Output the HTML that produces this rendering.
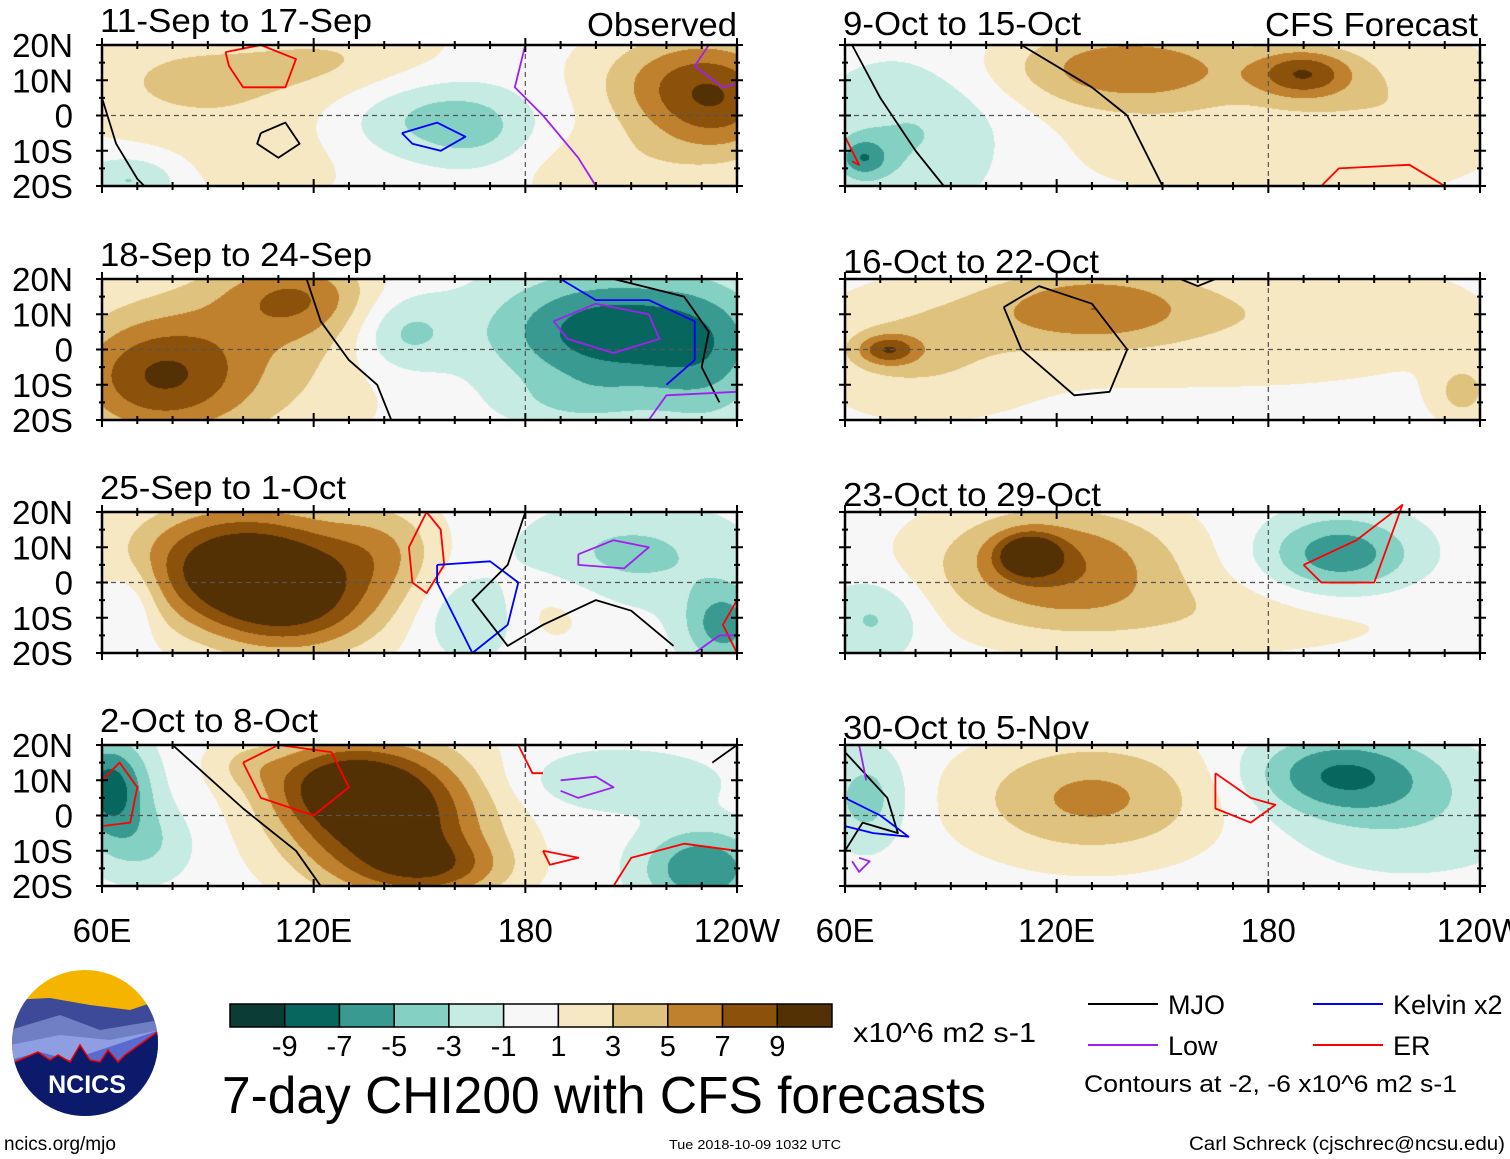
<!DOCTYPE html>
<html><head><meta charset="utf-8">
<style>
body{margin:0;background:#fff;width:1510px;height:1159px;position:relative;overflow:hidden;font-family:"Liberation Sans",sans-serif;}
canvas{position:absolute;}
svg{position:absolute;left:0;top:0;}
</style></head><body>
<div id="root"></div>
<svg id="ov" width="1510" height="1159"></svg>
<script>
// ---- data ----
const levelBounds=[-9,-7,-5,-3,-1,1,3,5,7,9];
const levelColors=["#0b3d35","#07675f","#389a90","#84d0c2","#c6ebe3","#f7f7f7","#f6e8c3","#dfc27d","#bf812d","#8c510a","#543005"];
const panelTitles=["11-Sep to 17-Sep","18-Sep to 24-Sep","25-Sep to 1-Oct","2-Oct to 8-Oct","9-Oct to 15-Oct","16-Oct to 22-Oct","23-Oct to 29-Oct","30-Oct to 5-Nov"];
const latTicks=["20N","10N","0","10S","20S"];
const lonTicks=["60E","120E","180","120W"];
// anomaly blobs per panel: [lon, lat, sigmaLon, sigmaLat, amplitude]
const blobs1=[[80,10,25,12,2.5],[120,5,40,20,1.3],[130,15,20,8,2],[235,5,15,12,8],[215,10,15,10,3],[150,0,18,9,-4],[168,-5,12,8,-2.5],[68,-18,10,5,-3.5],[105,-15,15,8,1.5],[200,-15,20,8,2]];
const blobs2=[[75,-8,18,12,7],[100,0,30,20,3.5],[115,15,15,8,5],[145,5,10,8,-4],[205,5,25,12,-8.5],[232,-5,12,15,-3],[195,-15,15,5,-2]];
const blobs3=[[100,5,22,12,11.5],[115,-8,18,10,6],[140,10,12,10,3.5],[165,-10,10,8,-3.5],[210,8,22,10,-3.5],[236,-12,8,8,-6],[185,-8,12,8,2],[68,-5,6,8,-3]];
const blobs4=[[140,0,20,14,11.5],[125,10,15,8,5],[155,-15,15,6,5],[62,8,8,10,-8],[72,-8,10,8,-3],[205,10,20,6,-3],[230,-15,12,8,-7],[100,15,8,5,2]];
const blobs5=[[80,-5,20,15,-3.5],[65,-12,5,4,-5],[140,14,25,8,6],[190,12,10,5,7],[165,-5,50,15,1.8],[220,5,20,15,2]];
const blobs6=[[130,12,22,8,6],[80,0,20,12,3],[72,0,6,3,6],[200,10,30,10,2],[235,-12,6,6,3.5],[150,0,60,20,1]];
const blobs7=[[120,5,25,12,7],[112,8,6,4,8.5],[200,8,15,8,-6.5],[68,-10,10,8,-3.5],[170,-10,40,8,2]];
const blobs8=[[130,5,25,12,5.5],[200,12,18,8,-6.5],[220,0,25,12,-2.5],[66,5,8,10,-4]];
const allBlobs=[blobs1,blobs2,blobs3,blobs4,blobs5,blobs6,blobs7,blobs8];
// contour lines per panel: [color, [[lon,lat],...]]
const lines1=[["#000",[[60,5],[64,-8],[70,-18],[72,-20]]],["#000",[[105,-5],[112,-2],[116,-8],[110,-12],[104,-8],[105,-5]]],["#f00",[[95,18],[105,20],[115,16],[112,8],[100,8],[96,14],[95,18]]],["#00f",[[145,-5],[155,-2],[163,-6],[156,-10],[148,-8],[145,-5]]],["#a020f0",[[180,20],[177,8],[185,0],[195,-12],[200,-20]]],["#a020f0",[[232,20],[228,14],[236,8],[240,9]]]];
const lines2=[["#000",[[118,20],[122,8],[130,-3],[138,-10],[142,-20]]],["#00f",[[190,20],[200,14],[215,14],[228,8],[228,-3],[220,-10]]],["#a020f0",[[188,8],[200,13],[215,10],[218,3],[205,-1],[192,3],[188,8]]],["#000",[[205,20],[225,15],[232,5],[230,-5],[235,-15]]],["#a020f0",[[215,-20],[220,-13],[240,-12]]]];
const lines3=[["#f00",[[152,20],[147,10],[148,0],[152,-3],[157,5],[156,15],[152,20]]],["#00f",[[155,5],[170,6],[178,0],[175,-12],[165,-20],[160,-10],[155,0],[155,5]]],["#000",[[180,20],[175,5],[165,-5],[175,-18],[185,-12],[200,-5],[210,-8],[222,-18]]],["#a020f0",[[195,8],[205,12],[215,10],[208,4],[195,5],[195,8]]],["#f00",[[240,-5],[236,-12],[240,-20]]],["#a020f0",[[228,-20],[235,-15],[240,-15]]]];
const lines4=[["#f00",[[60,10],[65,15],[70,8],[68,-2],[60,-3]]],["#000",[[80,20],[100,2],[115,-10],[122,-20]]],["#f00",[[100,15],[110,20],[125,18],[130,8],[120,0],[105,5],[100,15]]],["#a020f0",[[190,10],[200,11],[205,8],[195,5],[190,7]]],["#f00",[[185,-10],[195,-12],[187,-14],[185,-10]]],["#f00",[[205,-20],[210,-12],[225,-8],[240,-10]]],["#f00",[[178,20],[182,12],[185,12]]],["#000",[[233,15],[240,20]]]];
const lines5=[["#000",[[62,20],[70,5],[80,-10],[88,-20]]],["#000",[[110,20],[130,8],[140,0],[150,-20]]],["#f00",[[195,-20],[200,-15],[220,-14],[230,-20]]],["#f00",[[60,-6],[64,-14],[62,-13]]]];
const lines6=[["#000",[[105,12],[115,18],[130,13],[140,0],[135,-12],[125,-13],[110,0],[105,12]]],["#000",[[155,20],[160,18],[165,20]]]];
const lines7=[["#f00",[[190,5],[205,12],[218,22],[210,0],[195,0],[190,5]]]];
const lines8=[["#000",[[60,18],[72,5],[75,-5],[65,-2],[60,-10]]],["#00f",[[60,5],[70,0],[78,-6],[68,-5],[60,-3]]],["#a020f0",[[64,-12],[67,-13],[64,-16],[62,-13]]],["#f00",[[165,12],[175,5],[182,3],[175,-2],[165,2],[165,12]]],["#a020f0",[[64,20],[66,10]]]];
const allLines=[lines1,lines2,lines3,lines4,lines5,lines6,lines7,lines8];

const PW=635,PH=141;
const colX=[102,845], rowY=[45,279,512,745];
const NS="http://www.w3.org/2000/svg";
const ov=document.getElementById('ov');
function lonX(lon){return (lon-60)/180*PW;}
function latY(lat){return (20-lat)/40*PH;}
function colorFor(v){let i=0;while(i<levelBounds.length&&v>levelBounds[i])i++;return levelColors[i];}
function hex(c){return [parseInt(c.substr(1,2),16),parseInt(c.substr(3,2),16),parseInt(c.substr(5,2),16)];}
function txt(x,y,s,size,anchor,name,stretch){
  const t=document.createElementNS(NS,'text');
  t.setAttribute('x',x);t.setAttribute('y',y);t.setAttribute('font-size',size);
  t.setAttribute('font-family','Liberation Sans, sans-serif');
  if(anchor)t.setAttribute('text-anchor',anchor);
  t.textContent=s;
  
  
  ov.appendChild(t);
  if(stretch){t.setAttribute('textLength',stretch);t.setAttribute('lengthAdjust','spacingAndGlyphs');}
  return t;
}
function el(tag,attrs){const e=document.createElementNS(NS,tag);for(const k in attrs)e.setAttribute(k,attrs[k]);ov.appendChild(e);return e;}

const titleW=[272,272,246,218,238,256,258,246];
for(let p=0;p<8;p++){
  const ox=colX[p<4?0:1], oy=rowY[p%4];
  const cv=document.createElement('canvas');
  cv.width=PW;cv.height=PH;cv.style.left=ox+'px';cv.style.top=oy+'px';
  
  
  document.body.insertBefore(cv,ov);
  const ctx=cv.getContext('2d');const img=ctx.createImageData(PW,PH);
  const bl=allBlobs[p];
  for(let y=0;y<PH;y++){const lat=20-y/PH*40;
    for(let x=0;x<PW;x++){const lon=60+x/PW*180;let v=0;
      for(const b of bl){const dx=(lon-b[0])/b[2],dy=(lat-b[1])/b[3];v+=b[4]*Math.exp(-0.5*(dx*dx+dy*dy));}
      const c=hex(colorFor(v));const i=(y*PW+x)*4;img.data[i]=c[0];img.data[i+1]=c[1];img.data[i+2]=c[2];img.data[i+3]=255;}}
  ctx.putImageData(img,0,0);
  const g=el('g',{transform:`translate(${ox},${oy})`});
  
  
  const eq=document.createElementNS(NS,'line');
  eq.setAttribute('x1',0);eq.setAttribute('x2',PW);eq.setAttribute('y1',latY(0));eq.setAttribute('y2',latY(0));
  eq.setAttribute('stroke','#555');eq.setAttribute('stroke-dasharray','5,4');eq.setAttribute('stroke-width','1.2');
  g.appendChild(eq);
  const dl=document.createElementNS(NS,'line');
  dl.setAttribute('x1',lonX(180));dl.setAttribute('x2',lonX(180));dl.setAttribute('y1',0);dl.setAttribute('y2',PH);
  dl.setAttribute('stroke','#555');dl.setAttribute('stroke-dasharray','5,4');dl.setAttribute('stroke-width','1.2');
  g.appendChild(dl);
  for(const ln of allLines[p]){
    const pa=document.createElementNS(NS,'path');
    let d='';ln[1].forEach((pt,i)=>{d+=(i?'L':'M')+lonX(pt[0]).toFixed(1)+','+latY(pt[1]).toFixed(1);});
    pa.setAttribute('d',d);pa.setAttribute('fill','none');pa.setAttribute('stroke',ln[0]);pa.setAttribute('stroke-width','1.8');pa.setAttribute('stroke-linejoin','round');
    g.appendChild(pa);
  }
  const fr=document.createElementNS(NS,'rect');
  fr.setAttribute('x',0);fr.setAttribute('y',0);fr.setAttribute('width',PW);fr.setAttribute('height',PH);
  fr.setAttribute('fill','none');fr.setAttribute('stroke','#000');fr.setAttribute('stroke-width','2.5');
  g.appendChild(fr);
  for(let lon=60;lon<=240;lon+=10){const x=lonX(lon);const L=(lon%60==0)?7:4;
    const a=document.createElementNS(NS,'path');a.setAttribute('d',`M${x},${-L}L${x},${L}M${x},${PH-L}L${x},${PH+L}`);a.setAttribute('stroke','#000');a.setAttribute('stroke-width','2');
    g.appendChild(a);}
  for(let lat=-20;lat<=20;lat+=5){const y=latY(lat);const L=(lat%10==0)?6:3;
    const a=document.createElementNS(NS,'path');a.setAttribute('d',`M${-L},${y}L${L},${y}M${PW-L},${y}L${PW+L},${y}`);a.setAttribute('stroke','#000');a.setAttribute('stroke-width','2');
    g.appendChild(a);}
  txt(ox-2,oy-(p==4?10:p>4?6:13),panelTitles[p],33,null,'panel-title',titleW[p]);
  if(p<4){latTicks.forEach((s,i)=>txt(73,oy+i*PH/4+12,s,33,'end','lat-label',s.length>1?61:null));}
  if(p%4==3){lonTicks.forEach((s,i)=>txt(ox+i*PW/3,oy+PH+56,s,33,'middle','lon-label'));}
}
txt(737,36,'Observed',33,'end','observed-label',150);
txt(1478,36,'CFS Forecast',33,'end','forecast-label',213);
// colorbar
const cbX=230,cbY=1004,cbW=602,cbH=23;
levelColors.forEach((c,i)=>{const r=el('rect',{x:cbX+i*cbW/11,y:cbY,width:cbW/11,height:cbH,fill:c,stroke:'#000','stroke-width':1.5});
  });
levelBounds.forEach((v,i)=>txt(cbX+(i+1)*cbW/11,1056,String(v),29,'middle','colorbar-label'));
txt(853,1042,'x10^6 m2 s-1',28,null,'units-label',183);
txt(222,1113,'7-day CHI200 with CFS forecasts',52,null,'chart-title',764);
// line legend
const leg=[['#000','MJO',1088,1004],['#a020f0','Low',1088,1045],['#00f','Kelvin x2',1313,1004],['#f00','ER',1313,1045]];
leg.forEach(l=>{const a=el('line',{x1:l[2],x2:l[2]+70,y1:l[3],y2:l[3],stroke:l[0],'stroke-width':2});
  
  txt(l[2]+80,l[3]+10,l[1],27,null,'legend-entry');});
txt(1084,1092,'Contours at -2, -6 x10^6 m2 s-1',24,null,'contour-note',373);
txt(4,1150,'ncics.org/mjo',19,null,'site-url');
txt(755,1149,'Tue 2018-10-09 1032 UTC',13,'middle','timestamp',172);
txt(1505,1150,'Carl Schreck (cjschrec@ncsu.edu)',19,'end','author-credit',316);
// logo
const lg=el('g',{});
lg.innerHTML=`<defs><clipPath id="cc"><circle cx="85" cy="1043" r="73"/></clipPath></defs>
<g clip-path="url(#cc)"><rect x="10" y="968" width="150" height="150" fill="#f5b400"/>
<path d="M10,1000 L50,998 L90,1005 L130,1010 L160,1000 L160,1120 L10,1120Z" fill="#3c4a98"/>
<path d="M10,1030 L60,1015 L100,1030 L160,1020 L160,1120 L10,1120Z" fill="#6f7fc4"/>
<path d="M10,1045 L60,1035 L110,1040 L160,1030 L160,1120 L10,1120Z" fill="#8f9ee0"/>
<path d="M10,1060 L40,1052 L70,1060 L100,1050 L160,1030 L160,1120 L10,1120Z" fill="#5a6bd0"/>
<path d="M10,1064 L38,1052 L50,1060 L58,1055 L70,1062 L80,1045 L90,1060 L100,1062 L108,1050 L118,1062 L125,1055 L160,1030 L160,1120 L10,1120Z" fill="#0b1a6a" stroke="#e00" stroke-width="1.5"/></g>
<text x="87" y="1093" font-size="25" font-weight="bold" fill="#fff" text-anchor="middle" font-family="Liberation Sans, sans-serif">NCICS</text>`;
</script>
</body></html>
